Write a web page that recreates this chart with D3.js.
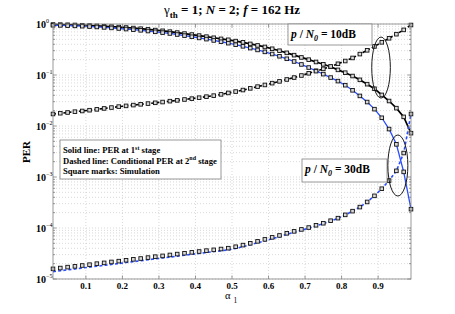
<!DOCTYPE html>
<html>
<head>
<meta charset="utf-8">
<script src="https://cdn.jsdelivr.net/npm/d3@7"></script>
<style>
  body { margin: 0; background: #fff; }
  text { font-family: "Liberation Serif", "DejaVu Serif", serif; }
</style>
</head>
<body>
<script>
// alpha_1 values (simulation points every 0.02)
const alpha = [0.01, 0.03, 0.05, 0.07, 0.09, 0.11, 0.13, 0.15, 0.17, 0.19,
  0.21, 0.23, 0.25, 0.27, 0.29, 0.31, 0.33, 0.35, 0.37, 0.39,
  0.41, 0.43, 0.45, 0.47, 0.49, 0.51, 0.53, 0.55, 0.57, 0.59,
  0.61, 0.63, 0.65, 0.67, 0.69, 0.71, 0.73, 0.75, 0.77, 0.79,
  0.81, 0.83, 0.85, 0.87, 0.89, 0.91, 0.93, 0.95, 0.97, 0.99];

// p/N0 = 10dB, PER at 1st stage (black solid)
const per1_10dB = [0.977, 0.973, 0.966, 0.957, 0.946, 0.933, 0.918, 0.904, 0.887, 0.871,
  0.853, 0.832, 0.809, 0.785, 0.760, 0.735, 0.708, 0.679, 0.649, 0.621,
  0.593, 0.565, 0.537, 0.511, 0.490, 0.462, 0.437, 0.407, 0.380, 0.355,
  0.327, 0.299, 0.272, 0.245, 0.221, 0.200, 0.180, 0.162, 0.145, 0.126,
  0.111, 0.0955, 0.0804, 0.0661, 0.0537, 0.0407, 0.0309, 0.0224, 0.0151, 0.00724];

// p/N0 = 10dB, conditional PER at 2nd stage (black dashed)
const per2_10dB = [0.0172, 0.0178, 0.0184, 0.0191, 0.0197, 0.0204, 0.0212, 0.0221, 0.0230, 0.0240,
  0.0248, 0.0257, 0.0266, 0.0275, 0.0285, 0.0295, 0.0307, 0.0318, 0.0331, 0.0344,
  0.0359, 0.0376, 0.0394, 0.0417, 0.0445, 0.0473, 0.0507, 0.0547, 0.0592, 0.0638,
  0.0692, 0.0750, 0.0817, 0.0891, 0.0977, 0.108, 0.119, 0.132, 0.147, 0.166,
  0.188, 0.216, 0.257, 0.305, 0.363, 0.437, 0.525, 0.631, 0.767, 0.955];

// p/N0 = 30dB, PER at 1st stage (blue solid)
const per1_30dB = [0.944, 0.938, 0.929, 0.918, 0.906, 0.891, 0.875, 0.857, 0.838, 0.817,
  0.796, 0.774, 0.752, 0.728, 0.703, 0.678, 0.652, 0.622, 0.592, 0.562,
  0.533, 0.505, 0.476, 0.449, 0.421, 0.393, 0.365, 0.337, 0.310, 0.284,
  0.258, 0.233, 0.208, 0.184, 0.161, 0.140, 0.121, 0.104, 0.0891, 0.0759,
  0.0631, 0.0501, 0.0389, 0.0295, 0.0214, 0.0145, 0.00871, 0.00437, 0.00126, 0.000234];

// p/N0 = 30dB, conditional PER at 2nd stage (blue dashed)
const per2_30dB = [1.39e-5, 1.45e-5, 1.51e-5, 1.57e-5, 1.64e-5, 1.71e-5, 1.78e-5, 1.85e-5, 1.93e-5, 2.01e-5,
  2.10e-5, 2.19e-5, 2.28e-5, 2.38e-5, 2.48e-5, 2.58e-5, 2.69e-5, 2.81e-5, 2.92e-5, 3.05e-5,
  3.18e-5, 3.31e-5, 3.45e-5, 3.58e-5, 3.72e-5, 3.98e-5, 4.32e-5, 4.68e-5, 5.13e-5, 5.62e-5,
  6.17e-5, 6.76e-5, 7.50e-5, 8.22e-5, 9.02e-5, 9.89e-5, 1.10e-4, 1.22e-4, 1.36e-4, 1.55e-4,
  1.80e-4, 2.14e-4, 2.57e-4, 3.24e-4, 4.27e-4, 5.89e-4, 8.51e-4, 1.32e-3, 2.95e-3, 1.72e-2];

// simulation marks for the 30dB 2nd stage (sit a bit above the analytic curve)
const sim2_30dB = [1.58e-5, 1.64e-5, 1.71e-5, 1.77e-5, 1.84e-5, 1.91e-5, 2.00e-5, 2.07e-5, 2.16e-5, 2.24e-5,
  2.33e-5, 2.43e-5, 2.52e-5, 2.63e-5, 2.74e-5, 2.84e-5, 2.96e-5, 3.08e-5, 3.20e-5, 3.33e-5,
  3.46e-5, 3.60e-5, 3.73e-5, 3.87e-5, 4.02e-5, 4.29e-5, 4.62e-5, 5.01e-5, 5.47e-5, 5.98e-5,
  6.55e-5, 7.14e-5, 7.87e-5, 8.59e-5, 9.38e-5, 1.02e-4, 1.13e-4, 1.24e-4, 1.39e-4, 1.56e-4,
  1.81e-4, 2.14e-4, 2.57e-4, 3.24e-4, 4.27e-4, 5.89e-4, 8.51e-4, 1.32e-3, 2.95e-3, 1.72e-2];

const xTicks = [0.1, 0.2, 0.3, 0.4, 0.5, 0.6, 0.7, 0.8, 0.9];
const yExponents = [0, -1, -2, -3, -4, -5];

const width = 455, height = 314;
const margin = { left: 53, right: 44, top: 24, bottom: 35 };

function main() {
  const svg = d3.select("body").append("svg")
    .attr("width", width)
    .attr("height", height);

  const x = d3.scaleLinear().domain([0.01, 0.99]).range([margin.left, width - margin.right]);
  const y = d3.scaleLog().domain([1e-5, 1]).range([height - margin.bottom, margin.top]);

  const x0 = x.range()[0], x1 = x.range()[1];
  const yTop = y.range()[1], yBot = y.range()[0];

  // grid
  const grid = svg.append("g").attr("class", "grid")
    .attr("stroke", "#c8c8c8")
    .attr("stroke-width", 0.7)
    .attr("stroke-dasharray", "1,2");

  grid.selectAll("line.vx").data(xTicks).join("line")
    .attr("class", "vx")
    .attr("x1", d => x(d)).attr("x2", d => x(d))
    .attr("y1", yTop).attr("y2", yBot);

  const logTicks = y.ticks();
  grid.selectAll("line.hy").data(logTicks).join("line")
    .attr("class", "hy")
    .attr("x1", x0).attr("x2", x1)
    .attr("y1", d => y(d)).attr("y2", d => y(d));

  // series
  const series = [
    { values: per1_10dB, color: "#000", dash: null, w: 1.7 },
    { values: per1_30dB, color: "#2a4dff", dash: null, w: 1.3 },
    { values: per2_10dB, color: "#000", dash: "3,2.2", w: 1.6 },
    { values: per2_30dB, color: "#2a4dff", dash: "3,2.2", w: 1.6 }
  ];

  const line = d3.line()
    .x(d => x(d[0]))
    .y(d => y(d[1]));

  svg.selectAll("path.series").data(series).join("path")
    .attr("class", "series")
    .attr("fill", "none")
    .attr("stroke", d => d.color)
    .attr("stroke-width", d => d.w)
    .attr("stroke-dasharray", d => d.dash)
    .attr("d", d => line(alpha.map((a, i) => [a, d.values[i]])));

  // simulation marks
  const sims = [per1_10dB, per1_30dB, per2_10dB, sim2_30dB];
  const marks = [];
  sims.forEach(vals => alpha.forEach((a, i) => marks.push([a, vals[i]])));

  const sq = 3.6;
  svg.append("g").selectAll("rect").data(marks).join("rect")
    .attr("x", d => x(d[0]) - sq / 2)
    .attr("y", d => y(d[1]) - sq / 2)
    .attr("width", sq).attr("height", sq)
    .attr("fill", "#d9d9d9")
    .attr("stroke", "#111")
    .attr("stroke-width", 0.9);

  // axes frame and ticks
  const axis = svg.append("g").attr("stroke", "#808080").attr("stroke-width", 0.8);
  axis.append("rect")
    .attr("x", x0).attr("y", yTop)
    .attr("width", x1 - x0).attr("height", yBot - yTop)
    .attr("fill", "none");

  axis.selectAll("line.xt").data(xTicks).join("line")
    .attr("class", "xt")
    .attr("x1", d => x(d)).attr("x2", d => x(d))
    .attr("y1", yBot).attr("y2", yBot - 3.5);
  axis.selectAll("line.xtt").data(xTicks).join("line")
    .attr("class", "xtt")
    .attr("x1", d => x(d)).attr("x2", d => x(d))
    .attr("y1", yTop).attr("y2", yTop + 3.5);

  const isMajor = d => Math.abs(Math.log10(d) - Math.round(Math.log10(d))) < 1e-9;
  [[x0, 1], [x1, -1]].forEach(([xe, dir]) => {
    axis.append("g").selectAll("line").data(logTicks).join("line")
      .attr("x1", xe)
      .attr("x2", d => xe + dir * (isMajor(d) ? 3.5 : 2))
      .attr("y1", d => y(d)).attr("y2", d => y(d));
  });

  // tick labels
  svg.append("g").selectAll("text").data(xTicks).join("text")
    .attr("x", d => x(d))
    .attr("y", yBot + 10)
    .attr("text-anchor", "middle")
    .attr("font-size", 9)
    .attr("font-weight", "bold")
    .text(d => d.toFixed(1));

  const yl = svg.append("g").selectAll("text").data(yExponents).join("text")
    .attr("x", x0 - 17)
    .attr("y", d => y(Math.pow(10, d)) + 3.5)
    .attr("text-anchor", "start")
    .attr("font-size", 10)
    .attr("font-weight", "bold");
  yl.append("tspan").text("10");
  yl.append("tspan")
    .attr("font-size", 6)
    .attr("dy", -5)
    .attr("font-weight", "normal")
    .text(d => d === 0 ? "0" : "\u2212" + Math.abs(d));

  // title
  const title = svg.append("text")
    .attr("x", 232).attr("y", 14)
    .attr("text-anchor", "middle")
    .attr("font-size", 13)
    .attr("font-weight", "bold");
  title.append("tspan").attr("font-weight", "normal").text("\u03b3");
  title.append("tspan").attr("font-size", 9).attr("dy", 3.5).text("th");
  title.append("tspan").attr("dy", -3.5).text(" = 1; ");
  title.append("tspan").attr("font-style", "italic").text("N");
  title.append("tspan").text(" = 2; ");
  title.append("tspan").attr("font-style", "italic").text("f");
  title.append("tspan").text(" = 162 Hz");

  // axis labels
  svg.append("text")
    .attr("transform", "translate(30,152) rotate(-90)")
    .attr("text-anchor", "middle")
    .attr("font-size", 11)
    .attr("font-weight", "bold")
    .text("PER");

  const xl = svg.append("text")
    .attr("x", 225).attr("y", 299)
    .attr("font-size", 10.5);
  xl.append("tspan").text("\u03b1");
  xl.append("tspan").attr("font-size", 7.5).attr("dx", 3).attr("dy", 4).text("1");

  // legend box
  const lg = svg.append("g");
  lg.append("rect")
    .attr("x", 60).attr("y", 140).attr("width", 161).attr("height", 39)
    .attr("fill", "#fff").attr("stroke", "#808080").attr("stroke-width", 0.8);
  const legendRows = [
    ["Solid line: PER at 1", "st", " stage"],
    ["Dashed line: Conditional PER at 2", "nd", " stage"],
    ["Square marks: Simulation", "", ""]
  ];
  legendRows.forEach((r, i) => {
    const t = lg.append("text")
      .attr("x", 63).attr("y", 153 + i * 10.5)
      .attr("font-size", 8.6)
      .attr("font-weight", "bold");
    t.append("tspan").text(r[0]);
    if (r[1]) {
      t.append("tspan").attr("font-size", 6).attr("dy", -3.5).text(r[1]);
      t.append("tspan").attr("dy", 3.5).text(r[2]);
    }
  });

  // p/N0 annotations
  function snrBox(bx, by, bw, bh, label) {
    const g = svg.append("g");
    g.append("rect")
      .attr("x", bx).attr("y", by).attr("width", bw).attr("height", bh)
      .attr("fill", "#fff").attr("stroke", "#808080").attr("stroke-width", 0.8);
    const t = g.append("text")
      .attr("x", bx + 3).attr("y", by + 14)
      .attr("font-size", 11.5)
      .attr("font-weight", "bold");
    t.append("tspan").attr("font-style", "italic").text("p");
    t.append("tspan").text(" / ");
    t.append("tspan").attr("font-style", "italic").text("N");
    t.append("tspan").attr("font-style", "italic").attr("font-size", 8).attr("dy", 3).text("0");
    t.append("tspan").attr("dy", -3).text(" = " + label);
  }
  snrBox(288, 24, 84, 21, "10dB");
  snrBox(302, 159, 85, 23, "30dB");

  // ellipses marking curve groups (centre in data units)
  const ell = [
    { a: 0.908, v: 0.14, rx: 9.3, ry: 30.5 },
    { a: 0.954, v: 1.68e-3, rx: 10, ry: 30.5 }
  ];
  svg.selectAll("ellipse").data(ell).join("ellipse")
    .attr("cx", d => x(d.a))
    .attr("cy", d => y(d.v))
    .attr("rx", d => d.rx).attr("ry", d => d.ry)
    .attr("fill", "none").attr("stroke", "#000").attr("stroke-width", 0.9);
}

main();
</script>
</body>
</html>
